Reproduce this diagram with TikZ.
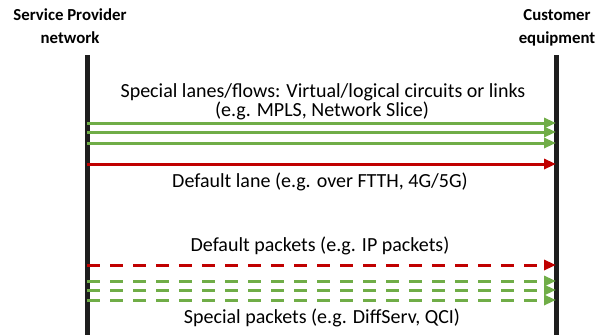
\documentclass[tikz,border=0pt]{standalone}
\usepackage{fontspec}
\setmainfont{Carlito}
\usetikzlibrary{arrows.meta}
\definecolor{lgreen}{HTML}{70AD47}
\definecolor{dred}{HTML}{C00000}
\definecolor{vline}{HTML}{1E1E1E}
\begin{document}
\begin{tikzpicture}[x=1pt,y=-1pt,
  vbar/.style={line width=5pt,draw=vline},
  lane/.style={line width=3pt,-{Triangle[length=12pt,width=10pt]}},
  pkt/.style={lane,dash pattern=on 13pt off 10pt},
  lbl/.style={font=\fontsize{20}{22}\selectfont,inner sep=0pt},
  hdr/.style={font=\bfseries\fontsize{16.8}{23}\selectfont,align=center,inner sep=0pt}]
\useasboundingbox (0,0) rectangle (615,335);
% vertical lines
\coordinate (LT) at (87,55); \coordinate (LB) at (87,335);
\coordinate (RT) at (556,55); \coordinate (RB) at (556,335);
\draw[vbar] (LT) -- (LB);
\draw[vbar] (RT) -- (RB);
% headers
\node[hdr] (sp) at (70,26) {Service Provider\\network};
\node[hdr] (ce) at (557,28) {Customer\\equipment};
% lanes
\foreach \n/\y in {g1/123,g2/132,g3/143} {
  \coordinate (\n a) at (87,\y); \coordinate (\n b) at (556,\y);
  \draw[lane,lgreen] (\n a) -- (\n b);
}
\coordinate (ra) at (87,164); \coordinate (rb) at (556,164);
\draw[lane,dred] (ra) -- (rb);
\coordinate (pra) at (87,265); \coordinate (prb) at (556,265);
\draw[pkt,dred] (pra) -- (prb);
\foreach \n/\y in {p1/281,p2/290,p3/300} {
  \coordinate (\n a) at (87,\y); \coordinate (\n b) at (556,\y);
  \draw[pkt,lgreen] (\n a) -- (\n b);
}
% labels
\node[lbl] (t1) at (323,92) {Special lanes/flows: Virtual/logical circuits or links};
\node[lbl] (t2) at (322,111) {(e.g. MPLS, Network Slice)};
\node[lbl] (t3) at (320,182) {Default lane (e.g. over FTTH, 4G/5G)};
\node[lbl] (t4) at (320,246) {Default packets (e.g. IP packets)};
\node[lbl] (t5) at (322,318) {Special packets (e.g. DiffServ, QCI)};
\end{tikzpicture}
\end{document}
